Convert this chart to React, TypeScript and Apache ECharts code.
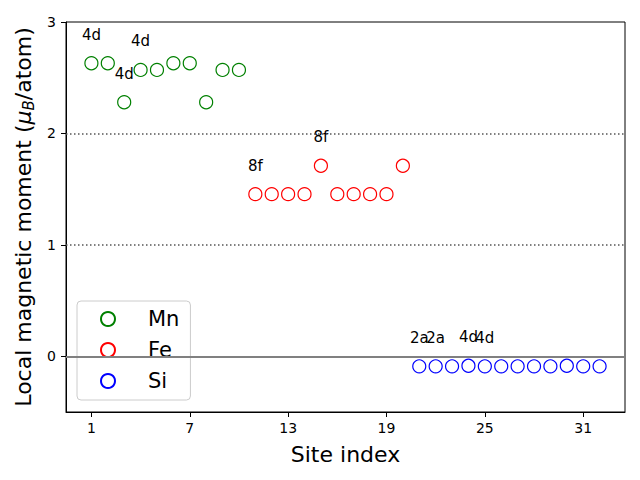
import React, { useEffect, useRef } from "react";
import * as echarts from "echarts";

const mnSites = [1, 2, 3, 4, 5, 6, 7, 8, 9, 10];
const mnValues = [2.63, 2.63, 2.28, 2.57, 2.57, 2.63, 2.63, 2.28, 2.57, 2.57];
const feSites = [11, 12, 13, 14, 15, 16, 17, 18, 19, 20];
const feValues = [1.455, 1.455, 1.455, 1.455, 1.71, 1.455, 1.455, 1.455, 1.455, 1.71];
const siSites = [21, 22, 23, 24, 25, 26, 27, 28, 29, 30, 31, 32];
const siValues = [-0.09, -0.09, -0.09, -0.085, -0.09, -0.09, -0.09, -0.09, -0.09, -0.085, -0.09, -0.09];
const labelSites = [1, 4, 3, 11, 15, 21, 22, 24, 25];
const labelTexts = ["4d", "4d", "4d", "8f", "8f", "2a", "2a", "4d", "4d"];
const xTicks = [1, 7, 13, 19, 25, 31];
const yTicks = [0, 1, 2, 3];

const FONT = "DejaVu Sans";

function buildData(sites: number[], values: number[]) {
  return sites.map((s, i) => {
    const li = labelSites.indexOf(s);
    if (li >= 0) {
      return {
        value: [s, values[i]],
        label: {
          show: true,
          formatter: labelTexts[li],
          position: "top",
          distance: 14,
          color: "#000",
          fontSize: 15,
          fontFamily: FONT,
          opacity: 1,
        },
      };
    }
    return { value: [s, values[i]] };
  });
}

export default function App() {
  const ref = useRef<HTMLDivElement>(null);
  useEffect(() => {
    if (!ref.current) return;
    const chart = echarts.init(ref.current, null, { renderer: "svg" });
    const mkSeries = (name: string, color: string, sites: number[], values: number[], extra: any = {}) => ({
      name,
      type: "scatter",
      symbol: "circle",
      symbolSize: 13,
      itemStyle: { color: "rgba(255,255,255,0)", borderColor: color, borderWidth: 1.2, opacity: 1 },
      emphasis: { disabled: true },
      data: buildData(sites, values),
      ...extra,
    });
    chart.setOption({
      animation: false,
      backgroundColor: "#fff",
      textStyle: { fontFamily: FONT },
      grid: {
        left: 66,
        right: 15,
        top: 22,
        bottom: 68,
        show: true,
        borderColor: "#000",
        borderWidth: 1,
      },
      legend: {
        orient: "vertical",
        left: 77,
        top: 301,
        padding: [7, 11, 8, 23],
        itemWidth: 14,
        itemHeight: 14,
        itemGap: 9,
        icon: "circle",
        backgroundColor: "rgba(255,255,255,0.8)",
        borderColor: "#ccc",
        borderWidth: 1,
        borderRadius: 4,
        textStyle: {
          fontSize: 21,
          fontFamily: FONT,
          color: "#000",
          lineHeight: 22,
          padding: [0, 0, 0, 28],
        },
        data: ["Mn", "Fe", "Si"],
      },
      xAxis: {
        type: "value",
        min: -0.55,
        max: 33.55,
        name: "Site index",
        nameLocation: "middle",
        nameGap: 31,
        nameTextStyle: { fontSize: 22, fontFamily: FONT, color: "#000" },
        axisLine: { show: true, onZero: false, lineStyle: { color: "#000" } },
        axisTick: { show: true, length: 5, lineStyle: { color: "#000" }, customValues: xTicks },
        axisLabel: { color: "#000", fontSize: 14, fontFamily: FONT, margin: 9, customValues: xTicks },
        splitLine: { show: false },
      },
      yAxis: {
        type: "value",
        min: -0.5,
        max: 3,
        name: "Local magnetic moment ({mu|μ}{sub|B}/atom)",
        nameLocation: "middle",
        nameRotate: 90,
        nameGap: 29,
        nameTextStyle: {
          fontSize: 22,
          fontFamily: FONT,
          color: "#000",
          rich: {
            mu: { fontSize: 22, fontStyle: "italic", fontFamily: FONT, color: "#000" },
            sub: { fontSize: 15, fontStyle: "italic", fontFamily: FONT, color: "#000", padding: [10, 0, 0, 0] },
          },
        },
        axisLine: { show: true, onZero: false, lineStyle: { color: "#000" } },
        axisTick: { show: true, length: 5, lineStyle: { color: "#000" }, customValues: yTicks },
        axisLabel: { color: "#000", fontSize: 14, fontFamily: FONT, margin: 10, customValues: yTicks },
        splitLine: { show: false },
      },
      series: [
        mkSeries("Mn", "green", mnSites, mnValues, {
          markLine: {
            silent: true,
            symbol: "none",
            label: { show: false },
            emphasis: { disabled: true },
            data: [
              { yAxis: 0, lineStyle: { color: "#808080", width: 1.8, type: "solid", opacity: 1 } },
              { yAxis: 1, lineStyle: { color: "#555", width: 1.5, type: [1.5, 2.5], opacity: 1 } },
              { yAxis: 2, lineStyle: { color: "#555", width: 1.5, type: [1.5, 2.5], opacity: 1 } },
            ],
          },
        }),
        mkSeries("Fe", "red", feSites, feValues),
        mkSeries("Si", "blue", siSites, siValues),
      ],
    });
    return () => chart.dispose();
  }, []);
  return <div ref={ref} style={{ width: 640, height: 480, position: "absolute", left: 0, top: 0 }} />;
}
